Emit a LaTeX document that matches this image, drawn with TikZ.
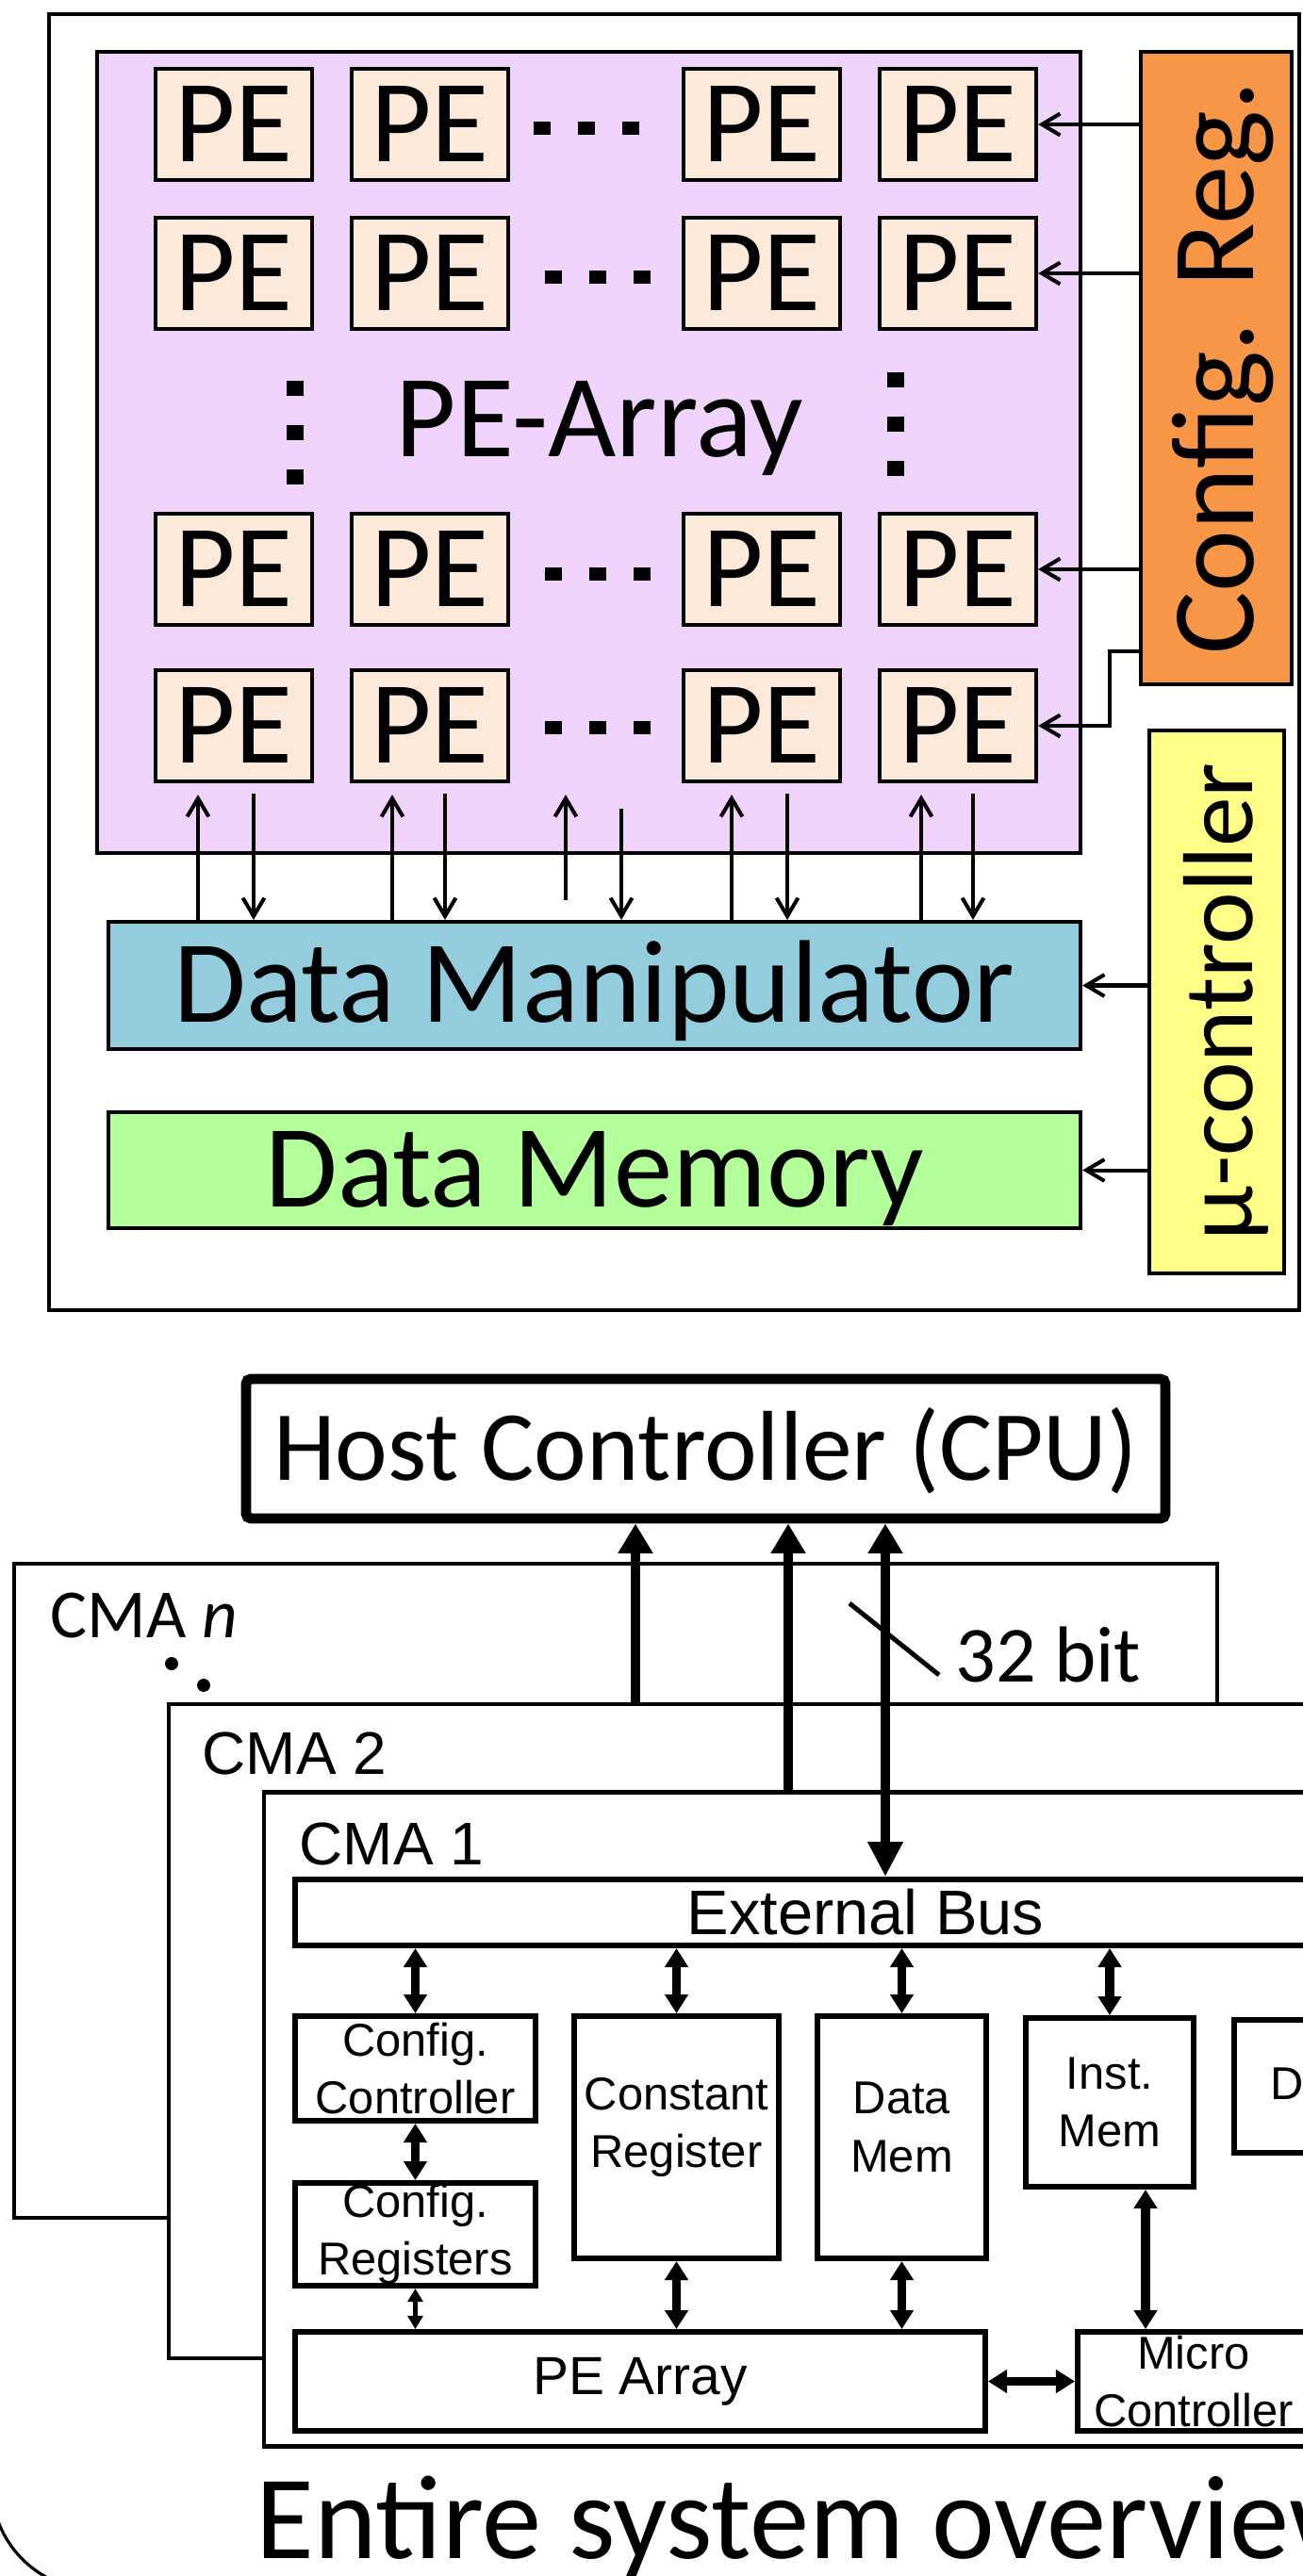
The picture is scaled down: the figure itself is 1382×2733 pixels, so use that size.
\documentclass[tikz,border=0pt]{standalone}
\usepackage{fontspec}
\setmainfont{Carlito}
\newfontfamily\arialfont{Liberation Sans}
\usetikzlibrary{arrows.meta}
\definecolor{arrayfill}{HTML}{EFD3FB}
\definecolor{pefill}{HTML}{FDE9D9}
\definecolor{cfgfill}{HTML}{F79646}
\definecolor{dmfill}{HTML}{93CDDD}
\definecolor{memfill}{HTML}{B3FF99}
\definecolor{ucfill}{HTML}{FFFF88}
\newcommand\biglbl{\fontsize{35.5}{40}\selectfont}
\newcommand\boxlbl{\arialfont\fontsize{13.9}{17.4}\selectfont}

\begin{document}
\begin{tikzpicture}[x=0.1mm, y=-0.1mm,
  blk/.style={draw, line width=1.2pt, inner sep=0pt, font=\biglbl, text height=22.4pt, text depth=0pt},
  pe/.style={blk, fill=pefill, minimum width=16.6mm, minimum height=11.8mm},
  ctl/.style={line width=1.15pt, -{Straight Barb[length=5.5pt,width=6.5pt]}},
  blkb/.style={draw, line width=1.7pt, inner sep=0pt, font=\boxlbl, align=center},
  highlbl/.style={label={[font=\boxlbl, align=center, inner sep=0pt, yshift=3pt]center:#1}},
  cma/.style={draw, fill=white, line width=1.2pt, minimum height=69.4mm},
  busarr/.style={line width=2.6pt, {Triangle[length=5.7pt,width=6.8pt]}-{Triangle[length=5.7pt,width=6.8pt]}},
  thinarr/.style={line width=1.5pt, {Triangle[length=4pt,width=4.5pt]}-{Triangle[length=4pt,width=4.5pt]}},
  hostarr/.style={line width=2.85pt, -{Triangle[length=9pt,width=10pt]}},
  hostbus/.style={line width=2.85pt, {Triangle[length=9pt,width=10pt]}-{Triangle[length=10.5pt,width=10pt]}}]
\useasboundingbox (0,0) rectangle (1382,2733);
\clip (0,0) rectangle (1382,2733);
\fill[white] (0,0) rectangle (1382,2733);

\node[draw, line width=1.2pt, minimum width=132.6mm, minimum height=137.5mm] (chip) at (715,702.5) {};
\node[draw, fill=arrayfill, line width=1.2pt, minimum width=104.3mm, minimum height=85mm] (array) at (624.5,480) {};
\foreach \r/\y in {1/132, 2/290, 3/604, 4/770}
  \foreach \c/\x in {1/248, 2/456, 3/808, 4/1016}
    \node[pe] (pe\r\c) at (\x,\y) {PE};
\foreach \y/\x in {136/575, 294/587, 609/587, 772/587}
  \foreach \k in {0,1,2}
    \fill (\x+47*\k-9,\y-7) rectangle ++(18,14);
\foreach \x/\y in {313/412, 950/403}
  \foreach \k in {0,1,2}
    \fill (\x-9,\y+47*\k-8) rectangle ++(18,16);
\node[font=\biglbl, anchor=base, inner sep=0pt] (arrlbl) at (636,484) {PE-Array};

\node[draw, fill=cfgfill, line width=1.2pt, minimum width=16mm, minimum height=67.1mm] (cfg) at (1290,390.5) {};
\node[rotate=90, font=\biglbl, text height=22.4pt, text depth=0pt, inner sep=0pt] (cfglbl) at (cfg.center) {Config. Reg.};
\node[draw, fill=ucfill, line width=1.2pt, minimum width=14.3mm, minimum height=57.6mm] (uc) at (1290.5,1063) {};
\node[rotate=90, font=\fontsize{30}{34}\selectfont, text height=21.5pt, text depth=0pt, inner sep=0pt] (uclbl) at (uc.center) {µ-controller};
\node[blk, fill=dmfill, minimum width=103.1mm, minimum height=13.5mm] (dm) at (630.5,1045.5) {Data Manipulator};
\node[blk, fill=memfill, minimum width=103.1mm, minimum height=12.3mm] (dmem) at (630.5,1241.5) {Data Memory};

\foreach \r in {1,2,3}
  \draw[ctl] (cfg.west |- pe\r4.east) -- (pe\r4.east);
\draw[ctl] ([yshift=3.7mm]cfg.south west) -- ++(-31,0) |- (pe44.east);
\draw[ctl] (uc.west |- dm.east) -- (dm.east);
\draw[ctl] (uc.west |- dmem.east) -- (dmem.east);
\foreach \c/\u/\d in {1/210/269, 2/416/472, 3/776/835, 4/977/1032} {
  \draw[ctl, shorten >=1.2mm] (dm.north -| \u,0) -- (pe4\c.south -| \u,0);
  \draw[ctl, shorten <=1.1mm] (pe4\c.south -| \d,0) -- (dm.north -| \d,0);
}
\draw[ctl, shorten <=2.1mm, shorten >=1.2mm] (dm.north -| 600,0) -- (pe42.south -| 600,0);
\draw[ctl, shorten <=2.7mm] (pe42.south -| 659,0) -- (dm.north -| 659,0);

\node[draw, line width=3.1pt, rounded corners=1.5pt, minimum width=97.5mm, minimum height=14.8mm, inner sep=0pt, font=\fontsize{30}{34}\selectfont, text height=19pt, text depth=0pt] (host) at (748.5,1537) {Host Controller (CPU)};

\node[cma, minimum width=127.6mm] (cman) at (653,2006) {};
\node[anchor=base west, font=\fontsize{20.8}{24}\selectfont, inner sep=0pt] (cmanlbl) at (53,1737) {CMA \textit{n}};
\fill (182,1765) circle[radius=7];
\fill (216,1788) circle[radius=7];
\node[cma, minimum width=127.1mm] (cma2) at (814.5,2155) {};
\node[anchor=base west, font=\arialfont\fontsize{18.2}{22}\selectfont, inner sep=0pt] (cma2lbl) at (214,1882) {CMA 2};
\node[cma, minimum width=117mm] (cma1) at (865,2248.5) {};
\node[anchor=base west, font=\arialfont\fontsize{18.2}{22}\selectfont, inner sep=0pt] (cma1lbl) at (317,1978) {CMA 1};

\node[draw, line width=1.7pt, minimum width=121mm, minimum height=7mm, inner sep=0pt, font=\arialfont\fontsize{19}{23}\selectfont] (ebus) at (918,2029) {External Bus};
\node[blkb, minimum width=25.5mm, minimum height=11.1mm] (cc) at (440.5,2194.5) {Config.\\Controller};
\node[blkb, minimum width=21.7mm, minimum height=25.7mm, highlbl={Constant\\Register}] (cr) at (717.5,2267.5) {};
\node[blkb, minimum width=17.9mm, minimum height=25.7mm, highlbl={Data\\Mem}] (dmm) at (956.5,2267.5) {};
\node[blkb, minimum width=17.8mm, minimum height=17.9mm] (im) at (1177,2230.5) {Inst.\\Mem};
\node[blkb, minimum width=17.8mm, minimum height=14.1mm] (dx) at (1398,2213.5) {};
\node[anchor=base west, font=\boxlbl, inner sep=0pt] (dxlbl) at (1347,2227) {D};
\node[blkb, minimum width=25.5mm, minimum height=10.9mm] (crg) at (440.5,2370.5) {Config.\\Registers};
\node[blkb, minimum width=73.2mm, minimum height=10.5mm, font=\arialfont\fontsize{16.2}{19}\selectfont] (pea) at (679,2526.5) {PE Array};
\node[blkb, minimum width=24.6mm, minimum height=10.5mm] (mc) at (1266,2526.5) {Micro\\Controller};

\foreach \n in {cc, cr, dmm, im}
  \draw[busarr] (ebus.south -| \n.north) -- (\n.north);
\draw[busarr] (cc.south) -- (crg.north);
\draw[thinarr] (crg.south) -- (pea.north -| crg.south);
\draw[busarr] (cr.south) -- (pea.north -| cr.south);
\draw[busarr] (dmm.south) -- (pea.north -| dmm.south);
\draw[busarr] (im.south -| 1215,0) -- (mc.north -| 1215,0);
\draw[busarr] (pea.east) -- (mc.west);

\draw[hostarr] (cma2.north -| 674,0) -- (host.south -| 674,0);
\draw[hostarr] (cma1.north -| 836,0) -- (host.south -| 836,0);
\draw[hostbus] (host.south -| 939,0) -- (ebus.north -| 939,0);
\draw[line width=1.4pt] (901,1701) -- (996,1777);
\node[anchor=base west, font=\fontsize{24}{28}\selectfont, inner sep=0pt] (bits) at (1013,1784) {32 bit};

\node[anchor=base west, font=\fontsize{36}{40}\selectfont, inner sep=0pt] (caption) at (271,2714) {Entire system overview};
\draw[line width=0.9pt] (103,2636) ++(175:112) arc[start angle=175, end angle=105, radius=112];
\end{tikzpicture}
\end{document}
